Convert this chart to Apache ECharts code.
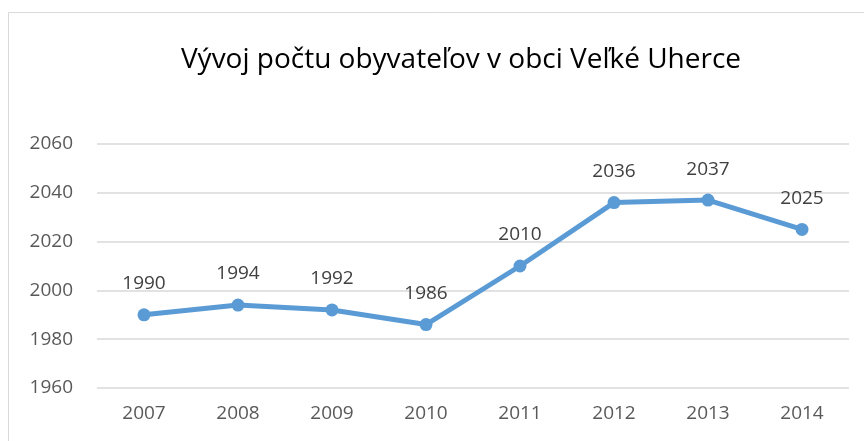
<!DOCTYPE html>
<html>
<head>
<meta charset="utf-8">
<script src="https://cdn.jsdelivr.net/npm/echarts@6/dist/echarts.min.js"></script>
<style>
html, body { margin: 0; padding: 0; background: #fff; }
#chart { width: 864px; height: 441px; }
</style>
</head>
<body>
<div id="chart"></div>
<script>
// roky a počet obyvateľov
var years = ['2007', '2008', '2009', '2010', '2011', '2012', '2013', '2014'];
var population = [1990, 1994, 1992, 1986, 2010, 2036, 2037, 2025];

var chart = echarts.init(document.getElementById('chart'));
chart.setOption({
    animation: false,
    textStyle: { fontFamily: 'Open Sans' },
    title: {
        text: 'Vývoj počtu obyvateľov v obci Veľké Uherce',
        left: 456,
        textAlign: 'center',
        top: 41,
        textStyle: { fontSize: 28, fontWeight: 'normal', color: '#000', fontFamily: 'Open Sans' }
    },
    // rámček okolo grafu
    graphic: [{
        type: 'rect',
        shape: { x: 8.5, y: 12.5, width: 900, height: 500 },
        style: { fill: 'none', stroke: '#d9d9d9', lineWidth: 1 },
        silent: true
    }],
    grid: { left: 97, right: 15, top: 144, bottom: 53 },
    xAxis: {
        type: 'category',
        data: years,
        boundaryGap: true,
        axisLine: { show: false },
        axisTick: { show: false },
        axisLabel: { fontSize: 19, color: '#595959', margin: 16 }
    },
    yAxis: {
        type: 'value',
        min: 1960,
        max: 2060,
        interval: 20,
        axisLine: { show: false },
        axisTick: { show: false },
        axisLabel: { fontSize: 19, color: '#595959', margin: 24, formatter: function (v) { return String(v); } },
        splitLine: { lineStyle: { color: '#d9d9d9', width: 1.5 } }
    },
    series: [{
        type: 'line',
        data: population,
        symbol: 'circle',
        symbolSize: 13,
        lineStyle: { color: '#5b9bd5', width: 5 },
        itemStyle: { color: '#5b9bd5' },
        label: {
            show: true,
            position: 'top',
            distance: 15,
            fontSize: 19,
            color: '#404040'
        }
    }]
});
</script>
</body>
</html>
